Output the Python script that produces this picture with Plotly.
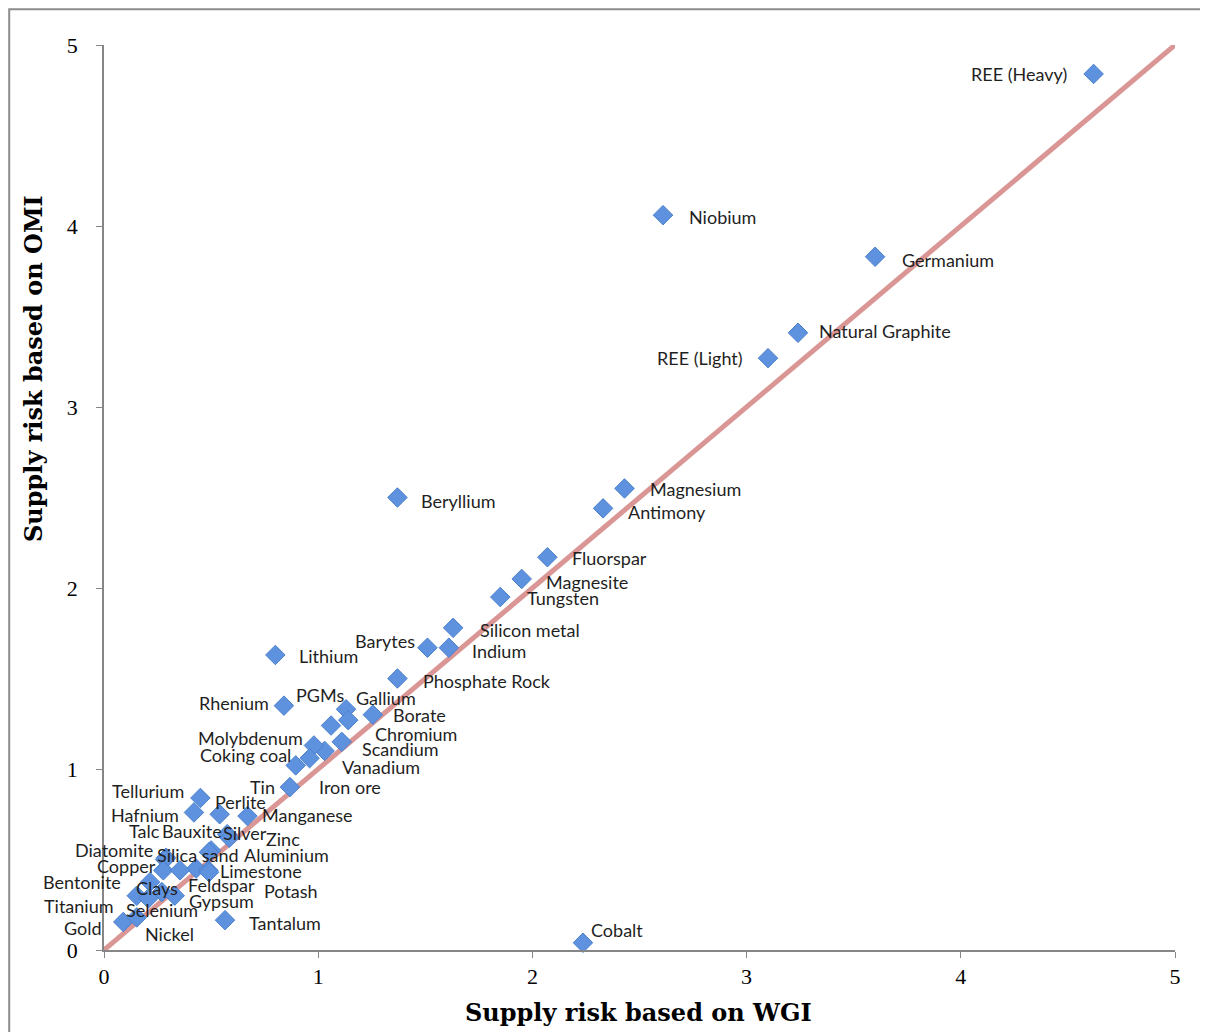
import plotly.graph_objects as go

# ---------------- data ----------------
minerals = [
    "REE (Heavy)", "Niobium", "Germanium", "Natural Graphite", "REE (Light)",
    "Beryllium", "Magnesium", "Antimony", "Fluorspar", "Magnesite", "Tungsten",
    "Silicon metal", "Barytes", "Indium", "Lithium", "Phosphate Rock", "Rhenium",
    "PGMs", "Gallium", "Borate", "Chromium", "Scandium", "Vanadium", "Molybdenum",
    "Coking coal", "Tin", "Iron ore",
    "Tellurium", "Hafnium", "Perlite", "Manganese", "Silver", "Zinc", "Aluminium",
    "Bauxite", "Talc", "Diatomite", "Silica sand", "Copper", "Feldspar", "Limestone",
    "Potash", "Bentonite", "Clays", "Gypsum", "Titanium", "Selenium", "Gold",
    "Nickel", "Tantalum", "Cobalt",
]
wgi = [
    4.62, 2.61, 3.60, 3.24, 3.10,
    1.37, 2.43, 2.33, 2.07, 1.95, 1.85,
    1.63, 1.51, 1.61, 0.80, 1.37, 0.84,
    1.06, 1.13, 1.255, 1.14, 1.11, 1.03, 0.98,
    0.96, 0.895, 0.868,
    0.45, 0.42, 0.54, 0.67, 0.575, 0.585, 0.50,
    0.49, 0.29, 0.285, 0.43, 0.277, 0.355, 0.487,
    0.49, 0.215, 0.27, 0.33, 0.153, 0.207, 0.09,
    0.153, 0.565, 2.236,
]
omi = [
    4.84, 4.06, 3.83, 3.41, 3.27,
    2.50, 2.55, 2.44, 2.17, 2.05, 1.95,
    1.78, 1.67, 1.67, 1.63, 1.50, 1.35,
    1.24, 1.33, 1.30, 1.27, 1.15, 1.10, 1.13,
    1.06, 1.02, 0.90,
    0.84, 0.76, 0.75, 0.74, 0.64, 0.62, 0.55,
    0.54, 0.51, 0.50, 0.45, 0.44, 0.44, 0.44,
    0.43, 0.375, 0.32, 0.30, 0.30, 0.285, 0.155,
    0.18, 0.165, 0.04,
]
ref_line = [0, 5]
tick_values = [0, 1, 2, 3, 4, 5]
x_title = "Supply risk based on WGI"
y_title = "Supply risk based on OMI"

# ---------------- label placement (pixel offsets, style only) ----------------
label_dx = [
    -75, 59, 73, 87, -68,
    61, 71, 64, 62, 65, 63,
    77, -42, 50, 53, 90, -50,
    -11, 40, 47, 68, 59, 56, -63,
    -64, -33, 60,
    -52, -49, 21, 60, 18, 54, 75,
    -17, -22, -51, 2, -37, 41, 53,
    82, -68, -5, 47, -58, 14, -40,
    33, 60, 34,
]
label_dy = [
    0, 2, 3, -2, 0,
    3, 1, 4, 1, 3, 1,
    2, -7, 3, 1, 2, -3,
    -31, -11, 0, 14, 7, 16, -7,
    -3, 22, 0,
    -7, 3, -12, -1, -1, 1, 5,
    -21, -27, -10, -14, -4, 15, 1,
    19, 0, -4, 5, 10, 12, 6,
    17, 3, -13,
]

axis_color = "#868686"

fig = go.Figure()

fig.add_trace(go.Scatter(
    x=ref_line, y=ref_line, mode="lines",
    line=dict(color="#D99694", width=5),
    hoverinfo="skip", showlegend=False,
))

fig.add_trace(go.Scatter(
    x=wgi, y=omi, mode="markers",
    marker=dict(symbol="diamond", size=15, color="#5E92DE",
                line=dict(color="#4C80CC", width=1)),
    text=minerals, showlegend=False, cliponaxis=False,
))

annotations = []
for name, xv, yv, dx, dy in zip(minerals, wgi, omi, label_dx, label_dy):
    annotations.append(dict(
        x=xv, y=yv, xref="x", yref="y", text=name, showarrow=False,
        xanchor="center", yanchor="middle", xshift=dx, yshift=-dy,
        font=dict(family="Lato", size=18, color="#1F1F1F"),
    ))

annotations.append(dict(
    x=0.4995, y=-0.0696, xref="paper", yref="paper", text="<b>" + x_title + "</b>",
    showarrow=False, xanchor="center", yanchor="middle",
    font=dict(family="DejaVu Serif", size=24, color="#000000"),
))
annotations.append(dict(
    x=-0.0663, y=0.643, xref="paper", yref="paper", text="<b>" + y_title + "</b>",
    showarrow=False, xanchor="center", yanchor="middle", textangle=-90,
    font=dict(family="DejaVu Serif", size=24, color="#000000"),
))

fig.update_layout(
    width=1200, height=1024,
    margin=dict(l=96, r=33, t=37, b=82),
    paper_bgcolor="white", plot_bgcolor="white",
    annotations=annotations,
    shapes=[dict(type="rect", xref="paper", yref="paper",
                 x0=-0.0885, x1=1.5, y0=-0.5, y1=1.0395,
                 line=dict(color="#8C8C8C", width=2), fillcolor="rgba(0,0,0,0)",
                 layer="below")],
)

fig.update_xaxes(
    range=[0, 5], tickvals=tick_values, ticks="outside", ticklen=6,
    tickcolor=axis_color, showline=True, linecolor=axis_color, linewidth=1.5,
    showgrid=False, zeroline=False,
    tickfont=dict(family="Liberation Serif", size=22, color="#000000"),
)
fig.update_yaxes(
    range=[0, 5], tickvals=tick_values, ticks="outside", ticklen=6,
    tickcolor=axis_color, showline=True, linecolor=axis_color, linewidth=1.5,
    showgrid=False, zeroline=False, ticklabelstandoff=14,
    tickfont=dict(family="Liberation Serif", size=22, color="#000000"),
)

fig.write_html("out.html")
